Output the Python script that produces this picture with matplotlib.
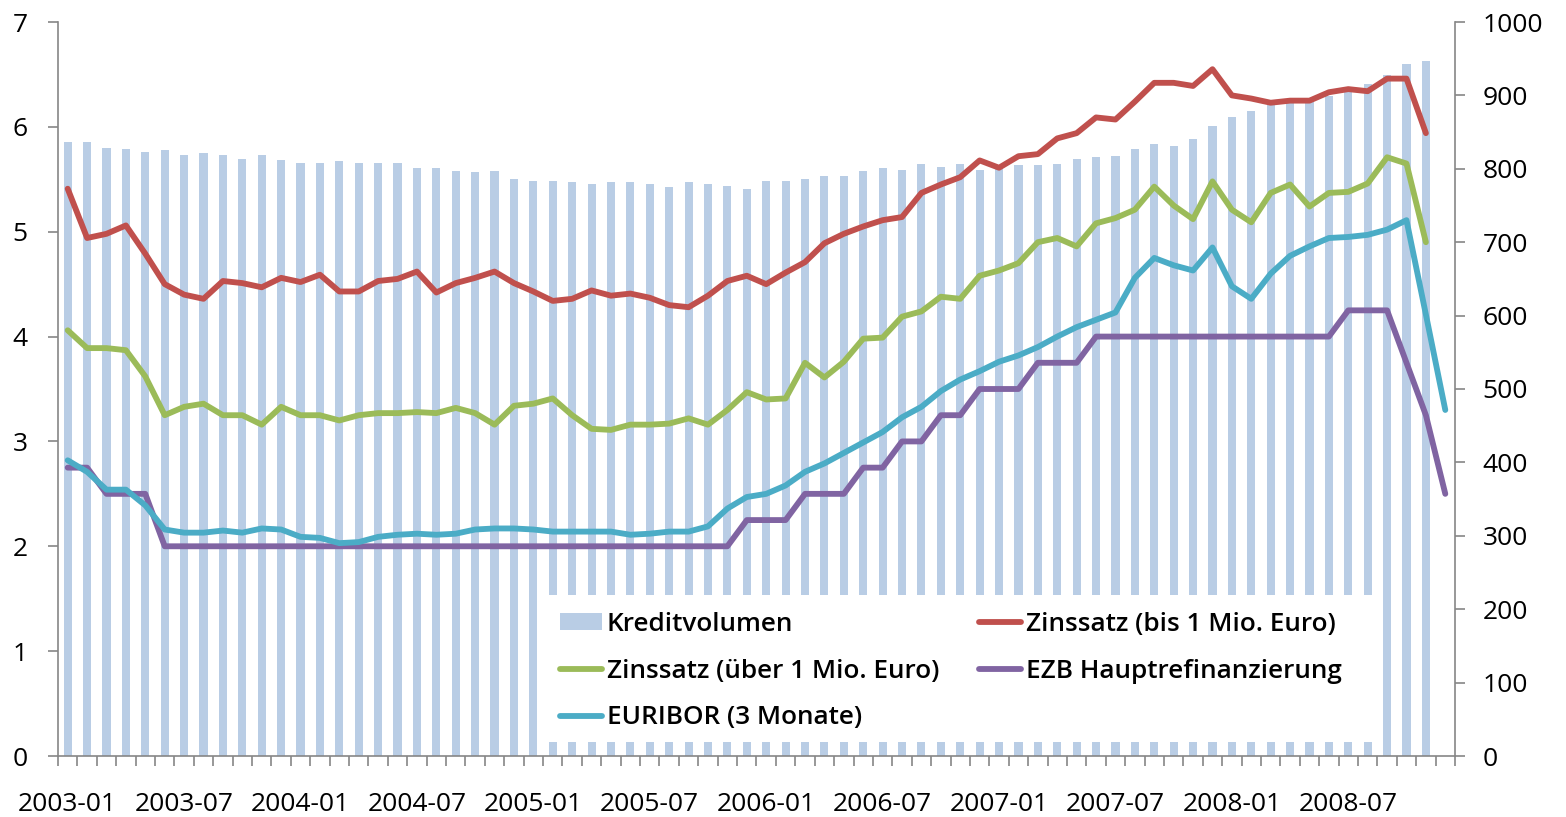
import matplotlib
matplotlib.use('Agg')
import matplotlib.pyplot as plt
import numpy as np
from matplotlib.patches import Patch, Rectangle
from matplotlib.lines import Line2D
from matplotlib.font_manager import FontProperties

nan = float('nan')

# Monthly categories 2003-01 .. 2008-12 (72 months); labels every 6 months
tick_labels = ["2003-01", "2003-07", "2004-01", "2004-07", "2005-01", "2005-07",
               "2006-01", "2006-07", "2007-01", "2007-07", "2008-01", "2008-07"]
n_months = 72

kreditvolumen = [836, 836, 829, 827, 823, 825, 819, 821, 819, 814,
                 819, 812, 808, 808, 810, 808, 808, 808, 801, 801,
                 797, 795, 797, 786, 784, 784, 782, 779, 782, 782,
                 779, 775, 782, 779, 777, 773, 784, 784, 786, 790,
                 790, 797, 801, 799, 806, 803, 807, 799, 802, 805,
                 805, 807, 814, 816, 818, 827, 834, 831, 840, 858,
                 871, 879, 887, 889, 891, 899, 904, 916, 928, 943,
                 947, nan]

zins_bis_1mio = [5.41, 4.94, 4.98, 5.06, 4.79, 4.50, 4.40, 4.36, 4.53, 4.51,
                 4.47, 4.56, 4.52, 4.59, 4.43, 4.43, 4.53, 4.55, 4.62, 4.42,
                 4.51, 4.56, 4.62, 4.51, 4.43, 4.34, 4.36, 4.44, 4.39, 4.41,
                 4.37, 4.30, 4.28, 4.39, 4.53, 4.58, 4.50, 4.61, 4.71, 4.89,
                 4.98, 5.05, 5.11, 5.14, 5.37, 5.45, 5.52, 5.68, 5.61, 5.72,
                 5.74, 5.89, 5.94, 6.09, 6.07, 6.24, 6.42, 6.42, 6.39, 6.55,
                 6.30, 6.27, 6.23, 6.25, 6.25, 6.33, 6.36, 6.34, 6.46, 6.46,
                 5.94, nan]

zins_ueber_1mio = [4.06, 3.89, 3.89, 3.87, 3.62, 3.25, 3.33, 3.36, 3.25, 3.25,
                   3.16, 3.33, 3.25, 3.25, 3.20, 3.25, 3.27, 3.27, 3.28, 3.27,
                   3.32, 3.27, 3.16, 3.34, 3.36, 3.41, 3.25, 3.12, 3.11, 3.16,
                   3.16, 3.17, 3.22, 3.16, 3.30, 3.47, 3.40, 3.41, 3.75, 3.61,
                   3.76, 3.98, 3.99, 4.19, 4.24, 4.38, 4.36, 4.58, 4.63, 4.70,
                   4.90, 4.94, 4.86, 5.08, 5.13, 5.21, 5.43, 5.25, 5.12, 5.48,
                   5.21, 5.09, 5.37, 5.45, 5.24, 5.37, 5.38, 5.46, 5.71, 5.65,
                   4.90, nan]

euribor_3m = [2.82, 2.71, 2.54, 2.54, 2.39, 2.16, 2.13, 2.13, 2.15, 2.13,
              2.17, 2.16, 2.09, 2.08, 2.03, 2.04, 2.09, 2.11, 2.12, 2.11,
              2.12, 2.16, 2.17, 2.17, 2.16, 2.14, 2.14, 2.14, 2.14, 2.11,
              2.12, 2.14, 2.14, 2.19, 2.36, 2.47, 2.50, 2.58, 2.71, 2.79,
              2.89, 2.99, 3.09, 3.23, 3.33, 3.48, 3.59, 3.67, 3.76, 3.82,
              3.90, 4.00, 4.09, 4.16, 4.23, 4.56, 4.75, 4.68, 4.63, 4.85,
              4.48, 4.36, 4.60, 4.77, 4.86, 4.94, 4.95, 4.97, 5.02, 5.11,
              4.21, 3.30]

ezb_hauptrefi = [2.75, 2.75, 2.50, 2.50, 2.50, 2.00, 2.00, 2.00, 2.00, 2.00,
                 2.00, 2.00, 2.00, 2.00, 2.00, 2.00, 2.00, 2.00, 2.00, 2.00,
                 2.00, 2.00, 2.00, 2.00, 2.00, 2.00, 2.00, 2.00, 2.00, 2.00,
                 2.00, 2.00, 2.00, 2.00, 2.00, 2.25, 2.25, 2.25, 2.50, 2.50,
                 2.50, 2.75, 2.75, 3.00, 3.00, 3.25, 3.25, 3.50, 3.50, 3.50,
                 3.75, 3.75, 3.75, 4.00, 4.00, 4.00, 4.00, 4.00, 4.00, 4.00,
                 4.00, 4.00, 4.00, 4.00, 4.00, 4.00, 4.25, 4.25, 4.25, 3.75,
                 3.25, 2.50]

series_names = ["Kreditvolumen", "Zinssatz (bis 1 Mio. Euro)", "Zinssatz (über 1 Mio. Euro)",
                "EZB Hauptrefinanzierung", "EURIBOR (3 Monate)"]

plt.rcParams['font.family'] = ['Open Sans', 'DejaVu Sans']
FS = 19
GRAY = '#868686'
C_BAR = '#B9CDE5'
C_RED = '#C0504D'
C_GREEN = '#9BBB59'
C_PURPLE = '#8064A2'
C_CYAN = '#4BACC6'

W, H = 1566, 817
fig = plt.figure(figsize=(W / 100, H / 100), dpi=100)
ax = fig.add_axes([58 / W, 1 - 756 / H, 1397 / W, 734 / H])
x = np.arange(n_months)

ax.bar(x, kreditvolumen, width=0.42, color=C_BAR, zorder=1)
ax.set_ylim(0, 1000)
ax.set_xlim(-0.5, n_months - 0.5)

ax2 = ax.twinx()
ax.yaxis.tick_right()
ax2.yaxis.tick_left()
ax2.yaxis.set_label_position('left')

lw = 4.2
kw = dict(lw=lw, solid_joinstyle='round', solid_capstyle='round')
ax2.plot(x, zins_bis_1mio, color=C_RED, **kw)
ax2.plot(x, zins_ueber_1mio, color=C_GREEN, **kw)
ax2.plot(x, ezb_hauptrefi, color=C_PURPLE, **kw)
ax2.plot(x, euribor_3m, color=C_CYAN, **kw)
ax2.set_ylim(0, 7)
ax2.set_yticks(range(0, 8))

# spines
for s in ['top', 'left']:
    ax.spines[s].set_visible(False)
for s in ['right', 'bottom']:
    ax.spines[s].set_color(GRAY)
    ax.spines[s].set_linewidth(1.2)
for s in ['top', 'right', 'bottom']:
    ax2.spines[s].set_visible(False)
ax2.spines['left'].set_color(GRAY)
ax2.spines['left'].set_linewidth(1.2)

ax.set_yticks(range(0, 1001, 100))
ax.tick_params(axis='y', which='major', direction='out', length=7, width=1.2,
               color=GRAY, pad=13, labelsize=FS)
ax2.tick_params(axis='y', which='major', direction='out', length=7, width=1.2,
                color=GRAY, pad=15, labelsize=FS)

ax.set_xticks(np.arange(-0.5, n_months, 1), minor=True)
ax.set_xticks(np.arange(0, n_months, 6))
ax.set_xticklabels(tick_labels)
ax.tick_params(axis='x', which='minor', direction='out', length=7, width=1.2, color=GRAY)
ax.tick_params(axis='x', which='major', length=0, pad=26, labelsize=FS)

# white legend background box
ax2.add_patch(Rectangle(((548 - 58) / 1397, (756 - 742) / 734),
                        (1376 - 548) / 1397, (742 - 595) / 734,
                        transform=ax2.transAxes, facecolor='white', edgecolor='none',
                        zorder=4))

handles = [Patch(facecolor=C_BAR, edgecolor='none'),
           Line2D([], [], color=C_GREEN, lw=lw, solid_capstyle='round'),
           Line2D([], [], color=C_CYAN, lw=lw, solid_capstyle='round'),
           Line2D([], [], color=C_RED, lw=lw, solid_capstyle='round'),
           Line2D([], [], color=C_PURPLE, lw=lw, solid_capstyle='round')]
labels = [series_names[0], series_names[2], series_names[4], series_names[1], series_names[3]]
leg_font = FontProperties(family=['Open Sans', 'DejaVu Sans'], weight='semibold', size=18.8)
leg = ax2.legend(handles, labels, ncol=2, loc='lower left',
                 bbox_to_anchor=((548 - 58) / 1397, (756 - 742) / 734),
                 frameon=False, prop=leg_font, handlelength=1.6, handleheight=0.6,
                 handletextpad=0.2, columnspacing=1.53, labelspacing=0.83,
                 borderpad=0.45, borderaxespad=0)
leg.set_zorder(5)

fig.savefig('out.png', dpi=100, facecolor='white')
